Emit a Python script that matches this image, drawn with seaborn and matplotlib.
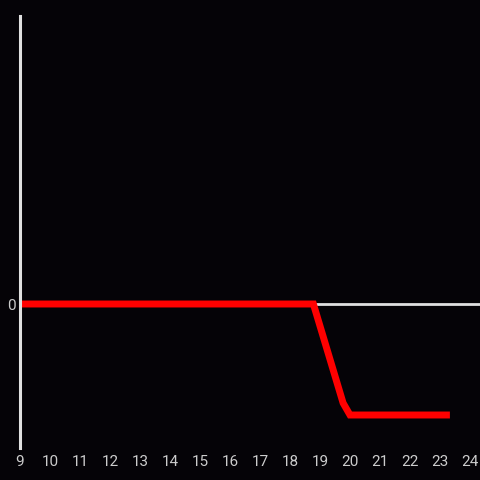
import matplotlib
matplotlib.use("Agg")
import matplotlib.pyplot as plt
import seaborn as sns
import pandas as pd

hours = [9.0, 18.78, 19.77, 20.0, 23.33]
values = [0, 0, -99, -111, -111]
x_ticks = list(range(9, 25))

sns.set_style("dark")
plt.rcParams['font.family'] = ['Roboto', 'DejaVu Sans']

bg = '#050307'
fig = plt.figure(figsize=(4.8, 4.8), dpi=100, facecolor=bg)
ax = fig.add_axes([20 / 480, 32 / 480, 460 / 480, 432 / 480])
ax.set_facecolor(bg)

df = pd.DataFrame({'hour': hours, 'value': values})

ax.axhline(0, color='#e0e0e0', lw=2, zorder=1)
sns.lineplot(data=df, x='hour', y='value', ax=ax, color='#ff0000', lw=5,
             solid_capstyle='butt', solid_joinstyle='miter', zorder=3)

ax.set_xlim(9, 9 + 460 / 30)
ax.set_ylim(-144, 288)
ax.set_xticks(x_ticks)
ax.set_xticklabels([str(t) for t in x_ticks])
ax.set_yticks([0])
ax.set_yticklabels(['0'])
ax.tick_params(axis='both', length=0, colors='#cccccc', labelsize=11)
ax.tick_params(axis='x', pad=5)
ax.tick_params(axis='y', pad=3)
ax.set_xlabel('')
ax.set_ylabel('')
ax.grid(False)

for side in ['top', 'right', 'bottom']:
    ax.spines[side].set_visible(False)
ax.spines['left'].set_color('#e0e0e0')
ax.spines['left'].set_linewidth(2.2)
ax.spines['left'].set_zorder(4)

fig.savefig('out.png', dpi=100, facecolor=bg)
